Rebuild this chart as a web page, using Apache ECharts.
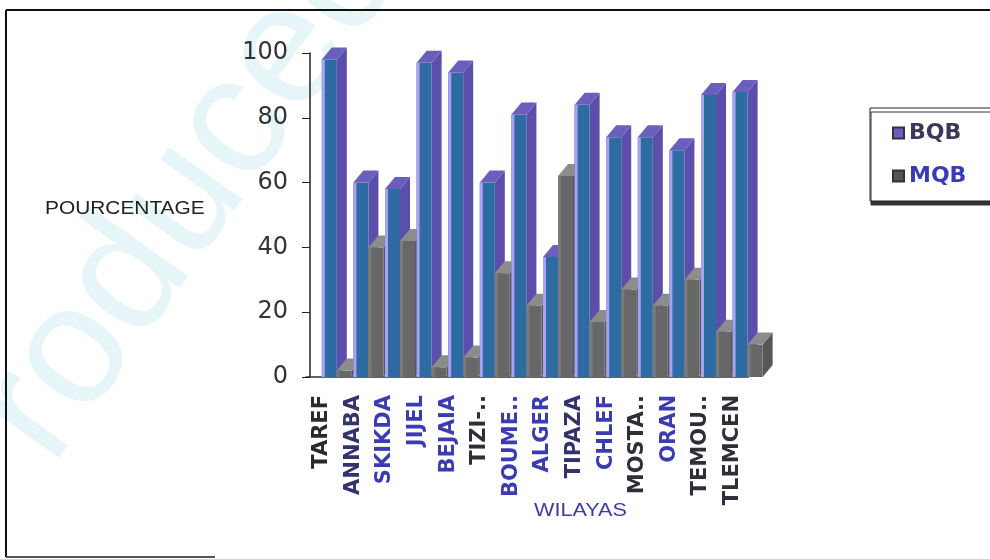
<!DOCTYPE html>
<html>
<head>
<meta charset="utf-8">
<script src="https://cdn.jsdelivr.net/npm/echarts@6/dist/echarts.min.js"></script>
<style>
  html, body { margin: 0; padding: 0; background: #fff; }
  #chart { width: 990px; height: 559px; }
</style>
</head>
<body>
<div id="chart"></div>
<script>
// Wilayas on the category axis
const wilayas = ['TAREF', 'ANNABA', 'SKIKDA', 'JIJEL', 'BEJAIA', 'TIZI-..', 'BOUME..',
                 'ALGER', 'TIPAZA', 'CHLEF', 'MOSTA..', 'ORAN', 'TEMOU..', 'TLEMCEN'];
// Percentage of BQB and MQB per wilaya
const bqb = [98, 60, 58, 97, 94, 60, 81, 37, 84, 74, 74, 70, 87, 88];
const mqb = [2, 40, 42, 3, 6, 32, 22, 62, 17, 27, 22, 30, 14, 10];
// Value axis ticks
const yTicks = [0, 20, 40, 60, 80, 100];
const seriesNames = ['BQB', 'MQB'];

const labelColors = ['#2a2a2a', '#33336e', '#3b3bb4', '#3b3bb4', '#3b3bb4', '#2f2f3a', '#3b3bb4',
                     '#3b3bb4', '#33336e', '#3b3bb4', '#2f2f3a', '#3b3bb4', '#2f2f3a', '#2f2f3a'];

const faces = {
  BQB: { front: '#2f6ba3', hi: '#a9a2f2', side: '#5b4fab', top: '#6a5fbc' },
  MQB: { front: '#676767', hi: '#7a7a7a', side: '#575757', top: '#8c8c8c' }
};
const DX = 10, DY = -12;

// One extruded column: side face, front face, highlight stripe, top face
function prism(x0, w, yTop, yBase, c) {
  return [
    { type: 'polygon', shape: { points: [[x0 + w, yTop], [x0 + w + DX, yTop + DY], [x0 + w + DX, yBase + DY], [x0 + w, yBase]] },
      style: { fill: c.side } },
    { type: 'rect', shape: { x: x0, y: yTop, width: w, height: yBase - yTop }, style: { fill: c.front } },
    { type: 'rect', shape: { x: x0, y: yTop, width: 3, height: yBase - yTop }, style: { fill: c.hi } },
    { type: 'polygon', shape: { points: [[x0, yTop], [x0 + DX, yTop + DY], [x0 + w + DX, yTop + DY], [x0 + w, yTop]] },
      style: { fill: c.top } }
  ];
}

function renderPair(params, api) {
  const i = api.value(0);
  const base = api.coord([i, 0]);
  const bw = api.size([1, 0])[0];
  const w = bw * 0.475;
  const yB = api.coord([i, api.value(1)])[1];
  const yM = api.coord([i, api.value(2)])[1];
  const cx = base[0];
  return {
    type: 'group',
    children: prism(cx, w, yB, base[1], faces.BQB).concat(prism(cx + w, w, yM, base[1], faces.MQB))
  };
}

const chart = echarts.init(document.getElementById('chart'), null, { renderer: 'canvas' });

chart.setOption({
  backgroundColor: '#fff',
  animation: false,
  grid: { left: 306, right: 241.6, top: 53, bottom: 182, containLabel: false },
  xAxis: {
    type: 'category',
    data: wilayas.map((w, i) => ({ value: w, textStyle: { color: labelColors[i] } })),
    axisLine: { show: true, lineStyle: { color: '#333', width: 1.5 } },
    axisTick: { show: false },
    axisLabel: {
      rotate: 90, interval: 0, margin: 18,
      fontFamily: 'DejaVu Sans', fontWeight: 'bold', fontSize: 21
    },
    splitLine: { show: false }
  },
  yAxis: {
    type: 'value',
    min: yTicks[0], max: yTicks[yTicks.length - 1], interval: yTicks[1] - yTicks[0],
    offset: -4,
    axisLine: { show: true, lineStyle: { color: '#222', width: 1.5 } },
    axisTick: { show: true, length: 8, lineStyle: { color: '#222' } },
    axisLabel: { margin: 22, fontFamily: 'DejaVu Sans', fontSize: 24, color: '#333' },
    splitLine: { show: false }
  },
  legend: {
    orient: 'vertical',
    left: 870, top: 108,
    padding: [14, 30, 14, 22],
    itemGap: 21,
    itemWidth: 11, itemHeight: 11,
    icon: 'rect',
    backgroundColor: '#fff',
    borderColor: '#222', borderWidth: 1,
    shadowColor: '#333', shadowBlur: 0, shadowOffsetX: 1, shadowOffsetY: 4,
    data: [
      { name: 'BQB', textStyle: { color: '#3a3a58' } },
      { name: 'MQB', textStyle: { color: '#3b3bb8' } }
    ],
    textStyle: { fontFamily: 'DejaVu Sans', fontWeight: 'bold', fontSize: 22 }
  },
  graphic: [
    // pale stamp running up the left side of the page
    { type: 'text', x: 14, y: 440, rotation: 0.953, z: -10, silent: true,
      style: { text: 'roduced', font: '170px "Liberation Sans", Arial', fill: '#e5f5f8',
               align: 'left', verticalAlign: 'middle' } },
    { type: 'text', left: 45, top: 200, scaleX: 1.16,
      style: { text: 'POURCENTAGE', font: '18px "Liberation Sans", Arial', fill: '#222' } },
    { type: 'text', left: 534, top: 502, scaleX: 1.2,
      style: { text: 'WILAYAS', font: '18px "Liberation Sans", Arial', fill: '#3a3aa8' } },
    { type: 'line', shape: { x1: 6, y1: 10, x2: 990, y2: 10 }, style: { stroke: '#111', lineWidth: 2 } },
    { type: 'line', shape: { x1: 6, y1: 10, x2: 6, y2: 557 }, style: { stroke: '#111', lineWidth: 2 } },
    { type: 'line', shape: { x1: 6, y1: 557, x2: 215, y2: 557 }, style: { stroke: '#555', lineWidth: 2 } }
  ],
  series: [
    {
      name: 'pair', type: 'custom', renderItem: renderPair,
      encode: { x: 0, y: [1, 2] },
      data: wilayas.map((w, i) => [i, bqb[i], mqb[i]]),
      z: 3
    },
    { name: seriesNames[0], type: 'bar', data: [], itemStyle: { color: '#6a5fc4', borderColor: '#333', borderWidth: 1 } },
    { name: seriesNames[1], type: 'bar', data: [], itemStyle: { color: '#555', borderColor: '#333', borderWidth: 1 } }
  ]
});
</script>
</body>
</html>
